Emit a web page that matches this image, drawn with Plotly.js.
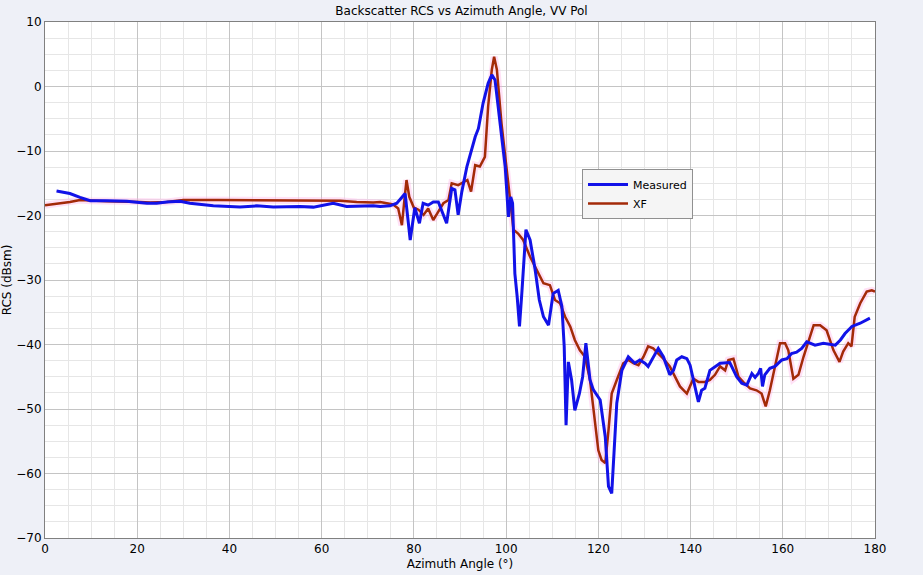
<!DOCTYPE html>
<html>
<head>
<meta charset="utf-8">
<script src="https://cdn.plot.ly/plotly-3.0.1.min.js"></script>
<style>html,body{margin:0;padding:0;background:#fff;}#chart{width:923px;height:575px;}</style>
</head>
<body>
<div id="chart"></div>
<script>
const measuredAngle = [2.5,5.4,7.6,9.8,13.4,17.7,22.1,24.2,26.4,29.3,31.4,36.5,42.3,45.9,49.5,55.3,58.2,60.4,62.5,65.4,68.3,71.2,72.7,74.8,76.3,78.1,79.2,80.2,81.2,82.0,83.1,84.2,85.3,87.1,88.2,88.9,89.6,90.4,91.5,92.2,93.3,94.0,95.0,96.1,96.9,97.6,98.7,99.8,100.5,101.0,101.4,101.9,102.4,102.9,103.4,104.3,105.2,106.3,107.2,108.1,109.2,110.2,111.3,112.1,112.6,113.0,113.5,114.2,114.9,115.9,116.6,117.3,118.2,118.9,120.4,121.5,122.2,122.9,123.4,124.0,125.1,126.5,127.2,127.9,129.0,130.1,130.8,131.6,132.3,133.0,134.1,135.5,136.3,137.0,138.1,139.2,139.9,140.6,141.7,142.4,143.1,144.2,145.3,146.4,148.5,150.0,151.1,152.2,153.3,154.0,154.7,155.2,155.6,156.1,157.2,158.3,159.8,160.9,161.9,163.0,164.1,165.2,167.0,168.8,171.4,172.5,173.5,175.0,176.8,178.9];
const measuredRCS = [-16.2,-16.6,-17.2,-17.7,-17.7,-17.8,-18.1,-18.1,-17.9,-17.8,-18.1,-18.5,-18.7,-18.5,-18.7,-18.6,-18.7,-18.4,-18.1,-18.6,-18.5,-18.5,-18.6,-18.5,-18.1,-16.6,-23.8,-18.8,-21.2,-18.1,-18.4,-17.9,-17.9,-21.2,-15.8,-16.0,-19.9,-16.3,-12.4,-10.6,-7.8,-6.5,-2.6,0.5,1.8,1.0,-6.2,-12.4,-20.2,-17.1,-18.1,-29.0,-32.6,-37.2,-32.1,-22.2,-23.8,-28.4,-33.1,-35.7,-37.0,-32.1,-31.6,-34.1,-40.3,-52.5,-42.7,-45.5,-50.2,-47.6,-45.0,-39.8,-45.5,-47.0,-48.6,-54.3,-62.0,-63.1,-56.8,-49.1,-44.0,-41.9,-42.4,-42.9,-42.4,-42.9,-43.4,-42.4,-41.4,-40.6,-41.9,-44.7,-44.0,-42.4,-41.9,-42.2,-43.2,-45.5,-48.9,-47.1,-46.8,-44.0,-43.4,-42.9,-42.8,-45.0,-46.0,-46.3,-44.5,-45.1,-44.5,-43.7,-46.5,-44.7,-43.7,-43.4,-42.4,-42.2,-41.4,-41.2,-40.6,-39.6,-40.1,-39.8,-40.1,-39.3,-38.3,-37.2,-36.7,-35.9];

const xfAngle = [0,2.5,5.4,7.6,9.8,13.4,20.6,22.8,26.4,30.0,37.6,42.3,49.5,56.8,60.4,64.0,67.6,71.2,72.7,74.1,75.5,76.6,77.4,77.9,78.4,79.0,80.0,81.0,82.1,83.1,84.2,85.3,86.4,87.5,88.2,89.6,90.7,91.6,92.4,93.3,94.3,95.4,96.1,96.9,97.4,98.0,99.0,100.1,101.0,101.6,102.6,103.7,105.2,106.6,108.1,109.5,110.6,111.7,112.8,113.9,114.9,116.0,117.1,118.2,119.3,120.0,120.7,121.5,122.2,122.9,124.0,125.4,126.5,127.6,128.7,129.8,130.8,131.9,133.0,134.1,135.5,136.6,137.7,139.2,139.9,140.6,141.7,143.1,144.2,145.3,146.4,147.5,148.2,149.3,150.4,151.4,152.9,154.3,155.4,156.3,157.2,158.3,159.4,160.5,161.2,162.3,163.4,164.5,165.6,166.7,168.1,169.5,171.0,172.3,173.1,174.2,174.9,175.6,176.8,178.2,179.3,180.0];
const xfRCS = [-18.4,-18.2,-17.9,-17.6,-17.7,-17.8,-17.9,-18.0,-17.9,-17.6,-17.6,-17.6,-17.7,-17.6,-17.6,-17.7,-17.9,-18.0,-17.9,-18.1,-18.3,-18.9,-21.5,-17.9,-14.5,-17.1,-18.8,-19.1,-19.9,-18.9,-20.7,-19.4,-18.1,-17.6,-15.0,-15.3,-14.8,-14.5,-16.3,-12.2,-12.4,-10.9,-3.1,2.6,4.6,2.6,-5.7,-13.0,-18.5,-22.2,-22.8,-23.8,-26.4,-28.4,-30.5,-30.8,-33.1,-33.6,-35.7,-37.2,-39.3,-40.9,-41.9,-45.5,-51.7,-56.4,-57.9,-58.4,-53.3,-47.6,-45.5,-42.9,-42.4,-42.9,-43.2,-41.9,-40.3,-40.6,-41.4,-42.2,-43.4,-45.0,-46.5,-47.6,-46.5,-45.3,-45.8,-45.8,-45.5,-44.7,-43.4,-44.0,-42.4,-42.2,-45.0,-45.8,-46.8,-47.1,-47.6,-49.6,-47.1,-43.4,-39.8,-39.8,-40.9,-45.3,-44.7,-41.9,-39.3,-37.0,-37.0,-37.8,-40.9,-42.7,-41.1,-39.8,-40.3,-35.7,-33.6,-31.8,-31.6,-31.8];

const titleText = 'Backscatter RCS vs Azimuth Angle, VV Pol';
const xTitle = 'Azimuth Angle (°)';
const yTitle = 'RCS (dBsm)';

const traces = [
  {x: xfAngle, y: xfRCS, mode: 'lines', line: {color: 'rgba(255,170,230,0.35)', width: 7}, showlegend: false, hoverinfo: 'skip'},
  {x: xfAngle, y: xfRCS, mode: 'lines', name: 'XF', legendrank: 2, line: {color: '#a32a08', width: 2.5}},
  {x: measuredAngle, y: measuredRCS, mode: 'lines', name: 'Measured', legendrank: 1, line: {color: '#1212e8', width: 3}}
];

const layout = {
  width: 923, height: 575,
  paper_bgcolor: '#eef0f7',
  plot_bgcolor: '#ffffff',
  font: {family: 'DejaVu Sans, sans-serif', size: 12, color: '#000'},
  margin: {l: 45, r: 48, t: 22, b: 37},
  title: {text: titleText, font: {size: 12, color: '#000'}, x: 0.5, xanchor: 'center', y: 0.988, yanchor: 'top'},
  xaxis: {
    range: [0, 180], dtick: 20, tick0: 0,
    showgrid: true, gridcolor: '#c4c4c4', gridwidth: 1,
    minor: {dtick: 5, showgrid: true, gridcolor: '#e6e6e6', gridwidth: 1},
    showline: true, linecolor: '#808080', linewidth: 1, mirror: true,
    zeroline: false, ticks: '', ticklen: 0,
    tickfont: {size: 12},
    title: {text: xTitle, font: {size: 12}, standoff: 4}
  },
  yaxis: {
    range: [-70, 10], dtick: 10, tick0: 0,
    showgrid: true, gridcolor: '#c4c4c4', gridwidth: 1,
    minor: {dtick: 2.5, showgrid: true, gridcolor: '#e6e6e6', gridwidth: 1},
    showline: true, linecolor: '#808080', linewidth: 1, mirror: true,
    zeroline: false, ticks: '',
    tickfont: {size: 12},
    title: {text: yTitle, font: {size: 12}, standoff: 6}
  },
  legend: {
    x: 0.647, y: 0.715, xanchor: 'left', yanchor: 'top',
    bgcolor: '#f5f5f5', bordercolor: '#909090', borderwidth: 1,
    font: {size: 11}, tracegroupgap: 0, itemwidth: 40, traceorder: 'normal'
  },
  showlegend: true
};

Plotly.newPlot('chart', traces, layout, {displayModeBar: false, staticPlot: true});
</script>
</body>
</html>
